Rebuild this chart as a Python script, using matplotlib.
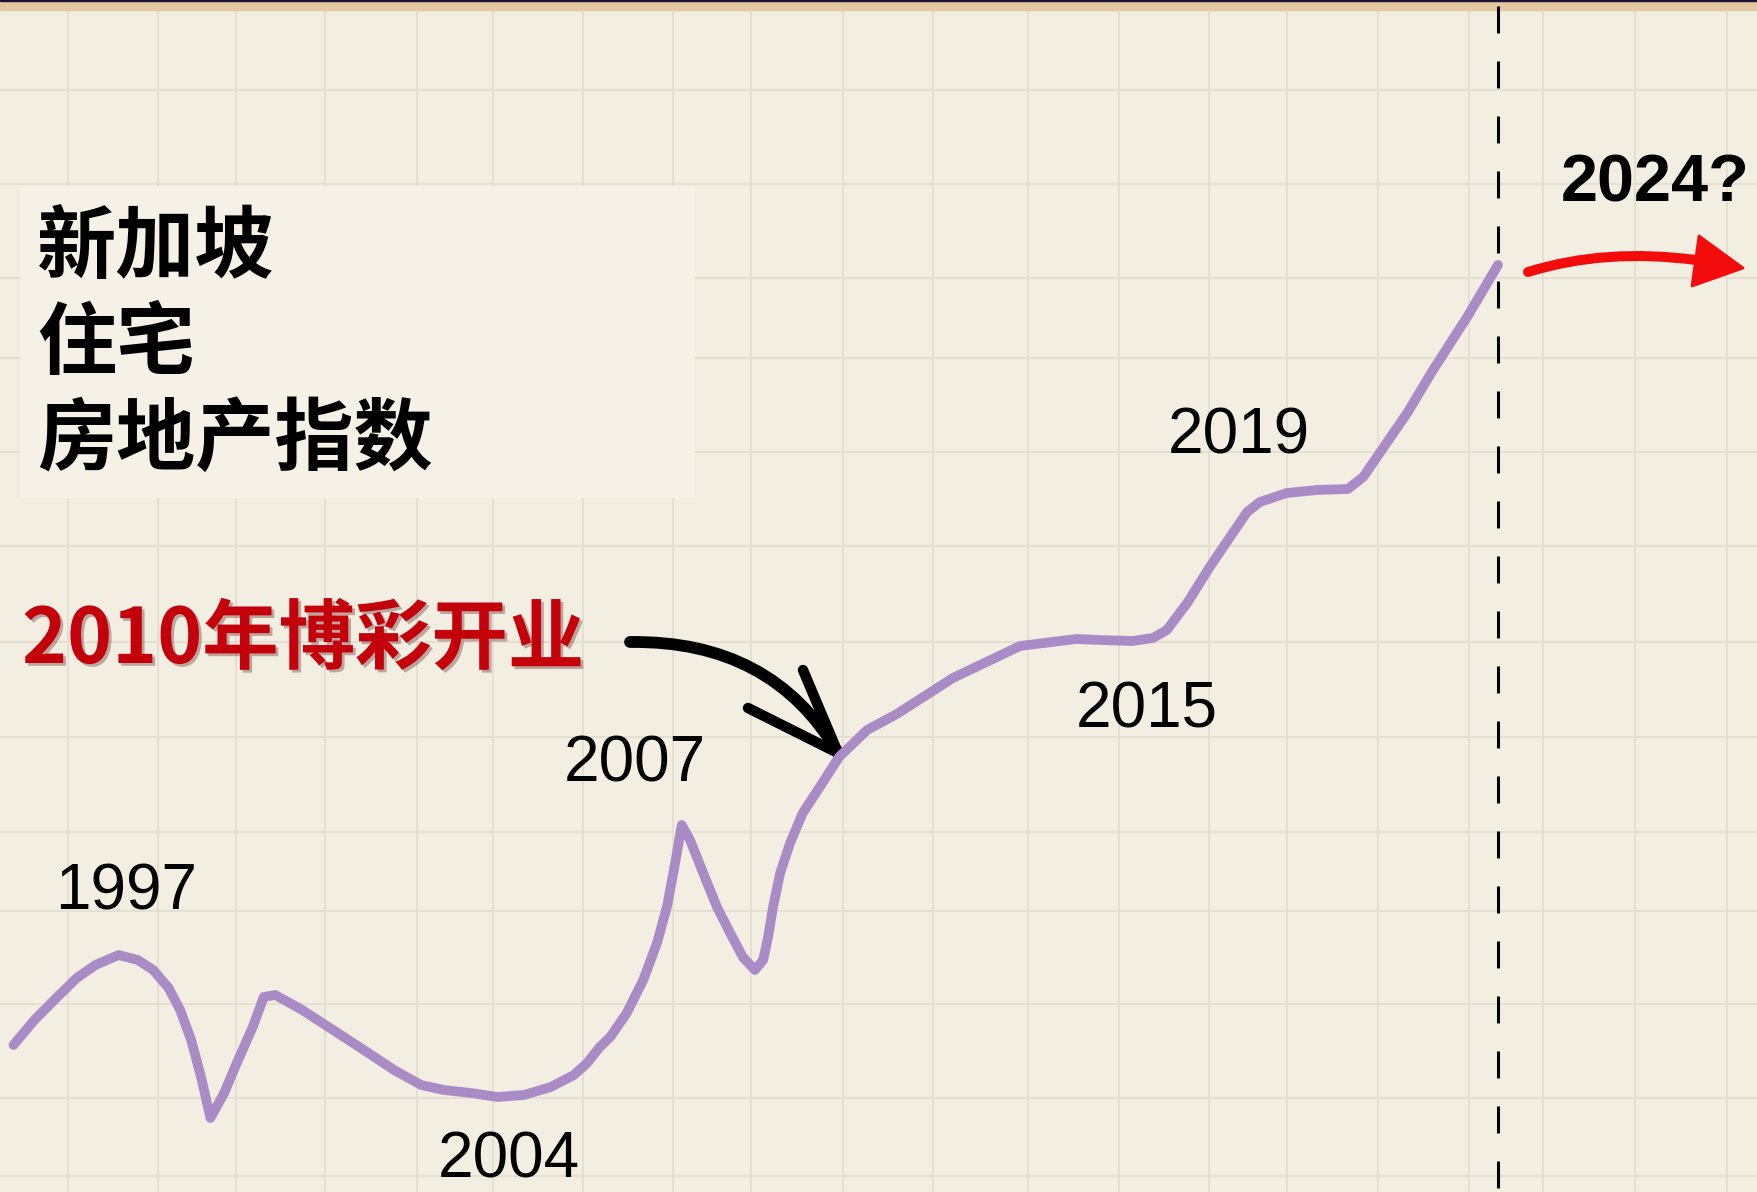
import matplotlib
matplotlib.use("Agg")
import matplotlib.pyplot as plt
import matplotlib.patheffects as pe
from matplotlib.path import Path
from matplotlib.patches import PathPatch, Polygon, Rectangle

# Data (x: year, y: index in drawing units)
years = [1995.10, 1995.48, 1995.90, 1996.25, 1996.59, 1997.01, 1997.36, 1997.64,
         1997.92, 1998.13, 1998.33, 1998.51, 1998.68, 1998.93, 1999.16, 1999.45,
         1999.65, 1999.86, 2000.35, 2000.91, 2001.47, 2002.02, 2002.51, 2002.93,
         2003.42, 2003.90, 2004.38, 2004.87, 2005.29, 2005.53, 2005.76, 2005.95,
         2006.25, 2006.55, 2006.80, 2006.98, 2007.13, 2007.25, 2007.40, 2007.64,
         2007.89, 2008.13, 2008.36, 2008.58, 2008.73, 2008.82, 2008.91, 2009.04,
         2009.22, 2009.45, 2009.76, 2010.11, 2010.62, 2011.16, 2012.18, 2013.40,
         2014.42, 2014.85, 2015.45, 2015.82, 2016.07, 2016.44, 2016.85, 2017.22,
         2017.53, 2017.76, 2018.25, 2018.80, 2019.36, 2019.64, 2019.89, 2020.44,
         2020.91, 2021.53, 2022.09]
index = [36.75, 43.0, 48.8, 53.5, 56.75, 59.25, 58.0, 55.5,
         51.0, 45.5, 38.0, 28.75, 18.5, 24.75, 32.25, 41.25,
         48.75, 49.25, 45.5, 40.5, 35.5, 30.5, 26.75, 25.5,
         24.75, 23.75, 24.25, 26.25, 29.25, 32.25, 36.25, 38.75,
         44.75, 53.0, 62.25, 71.25, 82.25, 91.75, 88.0, 79.75,
         71.25, 64.75, 58.75, 55.5, 58.0, 63.75, 71.25, 79.75,
         87.25, 94.75, 101.25, 108.75, 115.5, 119.5, 128.5, 136.5,
         138.25, 138.0, 137.75, 138.5, 140.5, 147.25, 156.25, 163.75,
         170.0, 172.5, 174.75, 175.5, 175.75, 178.75, 183.75, 194.75,
         205.5, 218.75, 231.75]
now_year = 2022.09

year_labels = ["1997", "2004", "2007", "2015", "2019"]
future_label = "2024?"
title_lines = ["新加坡", "住宅", "房地产指数"]
event_label = "2010年博彩开业"

# paper grid (pixel positions)
grid_x = [68, 158, 236, 325, 417, 493, 583, 673, 751, 843, 933, 1028, 1119,
          1209, 1287, 1378, 1469, 1543, 1635, 1727]
grid_y = [90, 184, 278, 358, 452, 546, 642, 737, 832, 911, 1004, 1098, 1176]

W, H = 1758, 1192
bg = "#f3eee2"
cjk = ["Noto Sans CJK SC", "DejaVu Sans"]

fig = plt.figure(figsize=(W / 100, H / 100), dpi=100)
fig.patch.set_facecolor(bg)

# background layer in pixel coordinates
ax_bg = fig.add_axes([0, 0, 1, 1])
ax_bg.set_xlim(0, W)
ax_bg.set_ylim(H, 0)
ax_bg.axis("off")

for gx in grid_x:
    ax_bg.axvline(gx, color="#e3dccf", lw=1.2, zorder=1)
for gy in grid_y:
    ax_bg.axhline(gy, color="#e3dccf", lw=1.2, zorder=1)

ax_bg.axhspan(0, 9.5, color="#e6c8a0", zorder=3)
ax_bg.axhspan(0, 1.2, color="#1f1533", zorder=4)

# plain box behind the title
ax_bg.add_patch(Rectangle((20, 186), 675, 312, facecolor="#f5f1e6",
                          edgecolor="none", zorder=2))

for i, line in enumerate(title_lines):
    ax_bg.text(37, 272 + i * 96, line, family=cjk, fontsize=57,
               fontweight=900, color="black", ha="left", va="baseline", zorder=5)

ax_bg.text(22, 663, event_label, family=cjk, fontsize=55, fontweight=900,
           color="#c4000a", ha="left", va="baseline", zorder=5,
           path_effects=[pe.SimplePatchShadow(offset=(2, -2), alpha=0.3),
                         pe.Normal()])

label_pos = [(126, 910), (509, 1177), (635, 781), (1147, 727), (1239, 454)]
for lab, (lx, ly) in zip(year_labels, label_pos):
    ax_bg.text(lx, ly, lab, family="Liberation Sans", fontsize=46,
               color="black", ha="center", va="baseline", zorder=5)
ax_bg.text(1655, 202, future_label, family="Liberation Sans", fontsize=48,
           fontweight="bold", color="black", ha="center", va="baseline", zorder=5)

# black hand-drawn arrow pointing at 2010
shaft = Path([(630, 642), (772, 640), (838, 753)],
             [Path.MOVETO, Path.CURVE3, Path.CURVE3])
ax_bg.add_patch(PathPatch(shaft, facecolor="none", edgecolor="black", lw=8.5,
                          capstyle="round", zorder=6))
ax_bg.plot([803, 838], [670, 753], color="black", lw=7.5, solid_capstyle="round", zorder=6)
ax_bg.plot([748, 838], [708, 753], color="black", lw=7.5, solid_capstyle="round", zorder=6)

# red arrow towards the future
red = "#f20c0c"
red_shaft = Path([(1528, 272), (1605, 248), (1696, 260)],
                 [Path.MOVETO, Path.CURVE3, Path.CURVE3])
ax_bg.add_patch(PathPatch(red_shaft, facecolor="none", edgecolor=red, lw=7.2,
                          capstyle="round", zorder=6))
ax_bg.add_patch(Polygon([(1699, 236), (1743, 268), (1692, 286)], closed=True,
                        facecolor=red, edgecolor=red, lw=2, joinstyle="round", zorder=6))

# data layer
ax = fig.add_axes([0, 0, 1, 1])
ax.patch.set_alpha(0)
ax.set_xlim(1997 - 118 / 55, 1997 + (W - 118) / 55)
ax.set_ylim(0, H / 4)
ax.axis("off")

plt.rcParams["lines.scale_dashes"] = False
ax.vlines(now_year, (H - 6) / 4, 0, colors="black", lw=2.2,
          linestyles=[(0, (19.4, 20.2))], zorder=2)
ax.plot(years, index, color="#a98bc6", lw=7, solid_capstyle="round",
        solid_joinstyle="round", zorder=3)

fig.savefig("out.png", dpi=100, facecolor=bg)
